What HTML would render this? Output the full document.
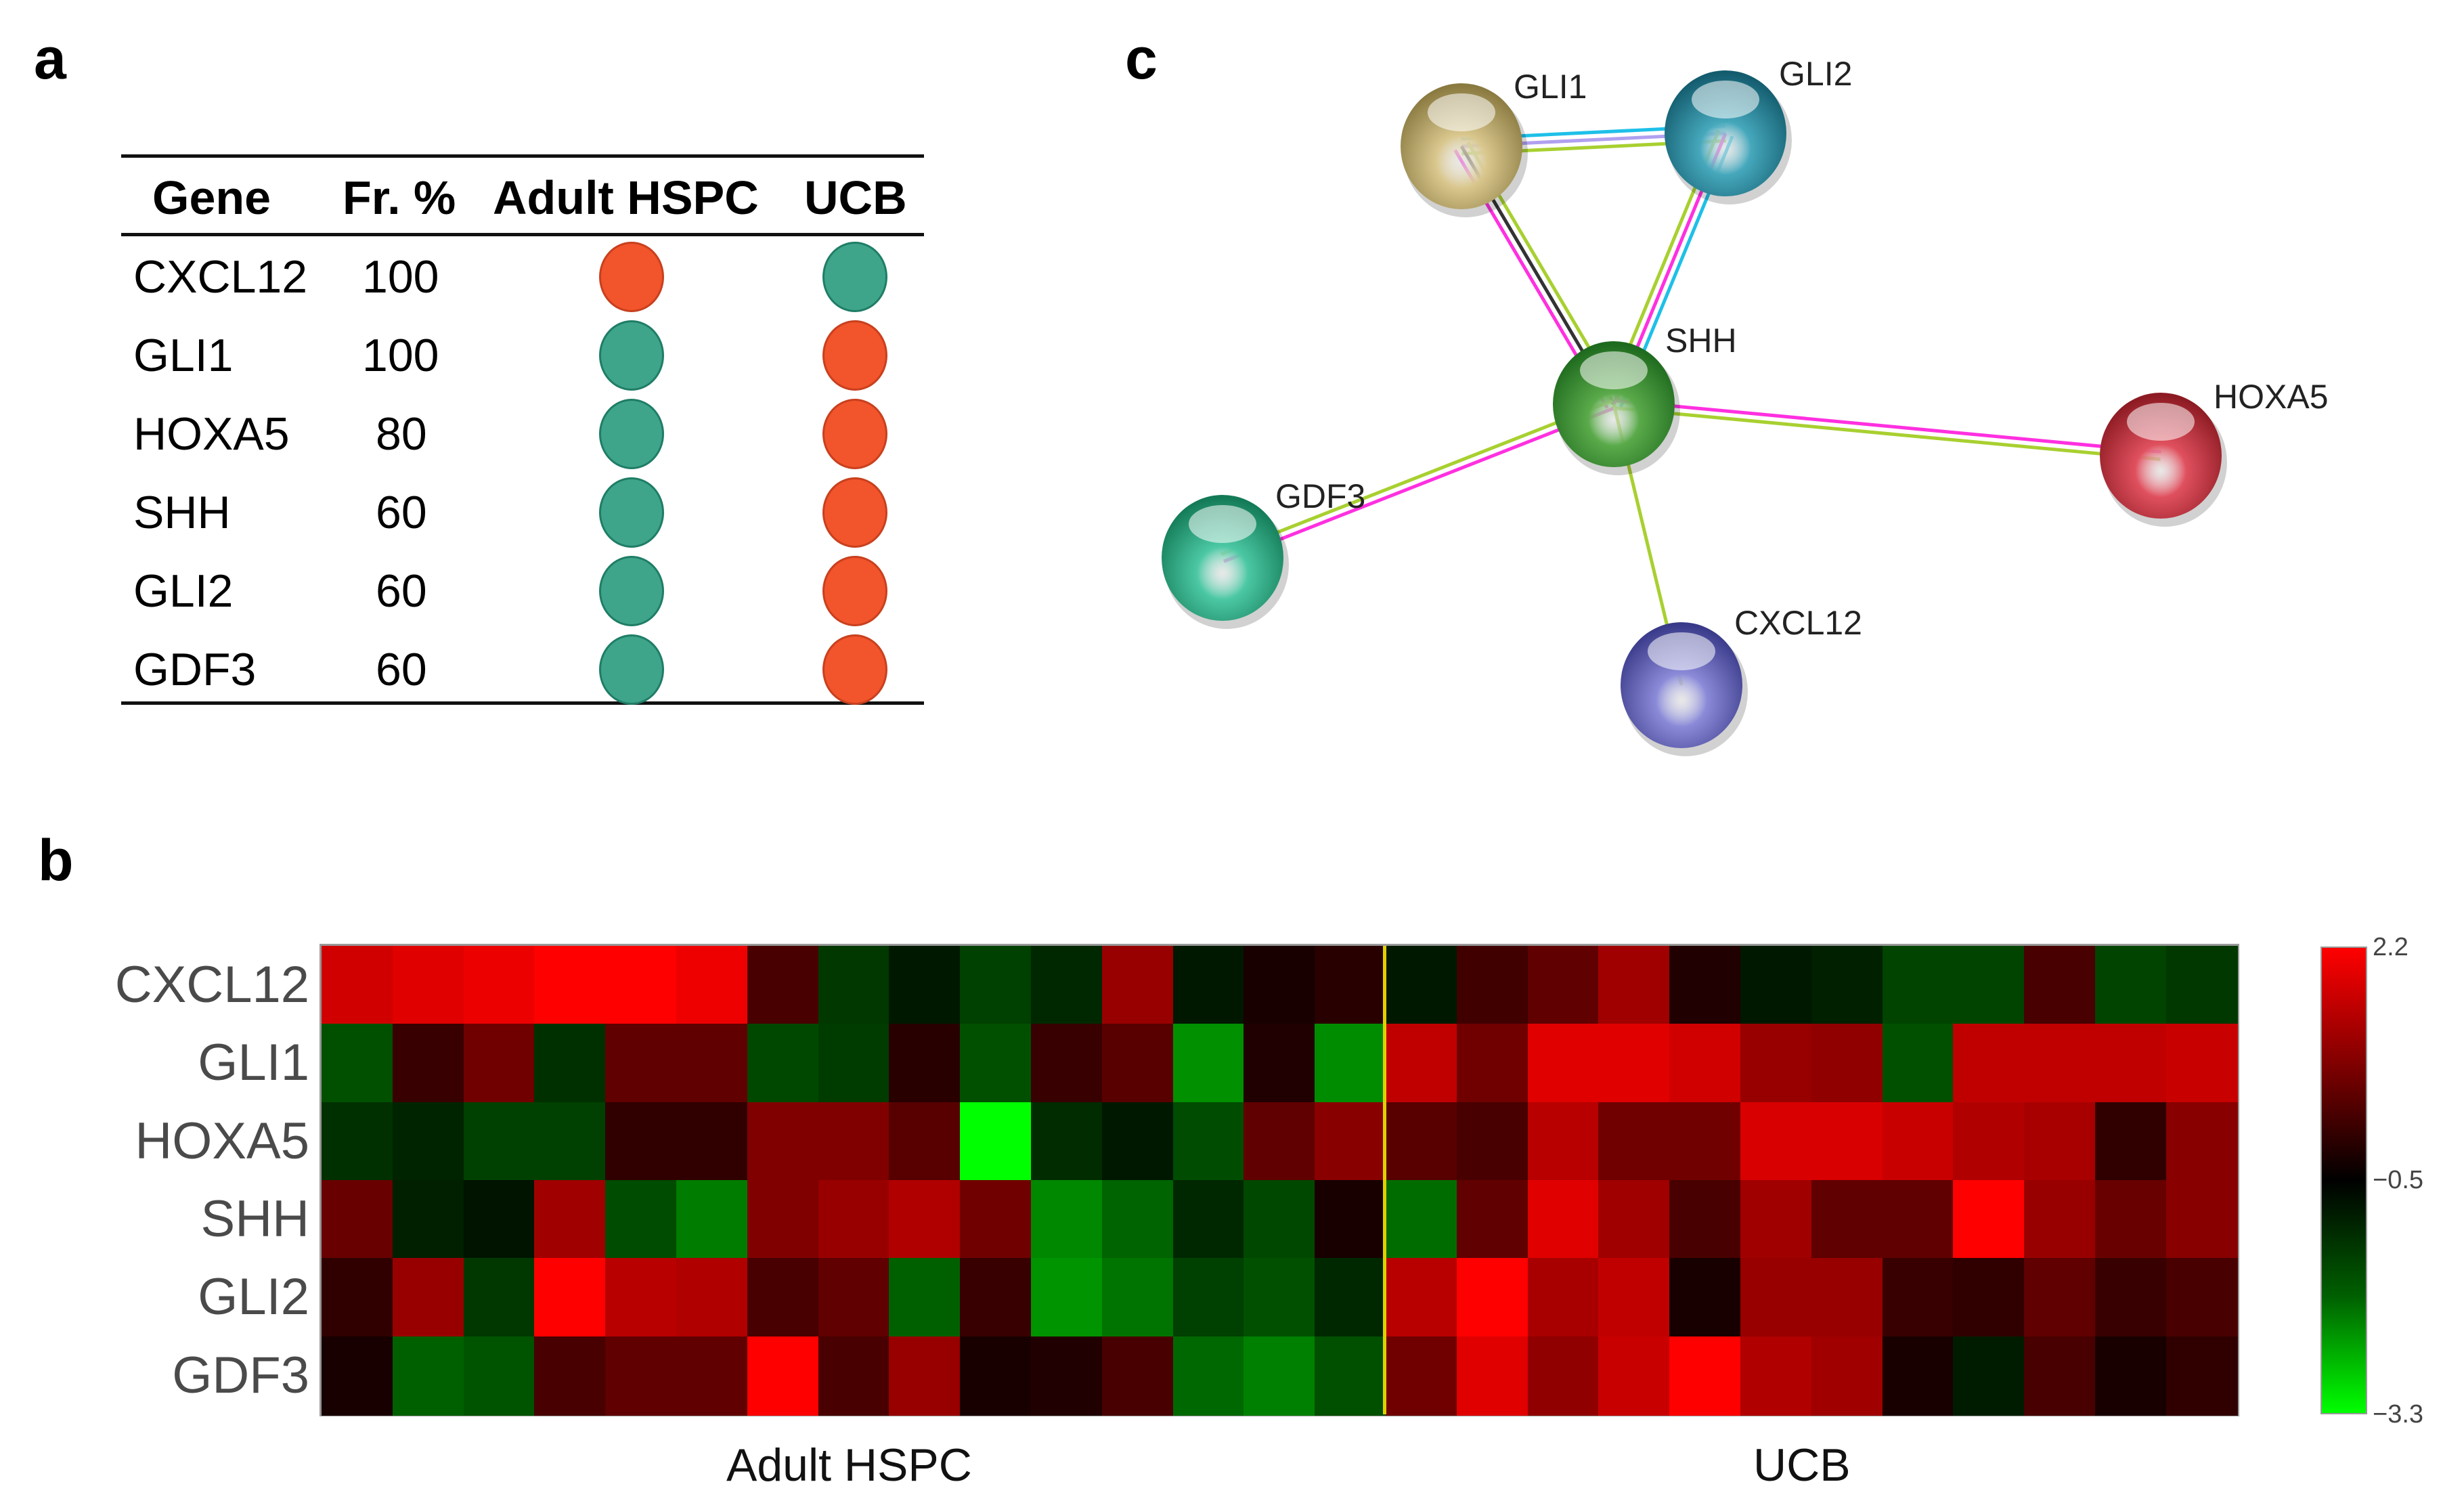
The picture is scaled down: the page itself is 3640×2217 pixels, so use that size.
<!DOCTYPE html>
<html><head><meta charset="utf-8">
<style>
html,body{margin:0;padding:0;background:#fff;}
body{width:3640px;height:2217px;position:relative;overflow:hidden;font-family:"Liberation Sans",sans-serif;}
.abs{position:absolute;}
.lbl{font-weight:bold;font-size:86px;color:#000;}
.rule{position:absolute;left:179px;width:1186px;height:5px;background:#111;}
.hd{position:absolute;top:252px;font-weight:bold;font-size:70px;line-height:80px;color:#000;white-space:nowrap;}
.cell{position:absolute;font-size:68px;line-height:80px;color:#000;white-space:nowrap;}
.dot{position:absolute;width:96px;height:104px;border-radius:50%;box-sizing:border-box;}
.o{background:#f2542b;border:3px solid #c8401e;}
.t{background:#3ea58b;border:3px solid #1f7d66;}
.rl{position:absolute;right:3183px;font-size:76px;line-height:115px;color:#4a4a4a;text-align:right;white-space:nowrap;}
</style></head><body>
<div class="abs lbl" style="left:50px;top:38px;">a</div>
<div class="abs lbl" style="left:56px;top:1222px;">b</div>
<div class="abs lbl" style="left:1662px;top:38px;">c</div>

<div class="rule" style="top:228px"></div>
<div class="rule" style="top:344px"></div>
<div class="rule" style="top:1036px"></div>
<div class="hd" style="left:225px">Gene</div>
<div class="hd" style="left:506px">Fr. %</div>
<div class="hd" style="left:728px">Adult HSPC</div>
<div class="hd" style="left:1188px">UCB</div>

<div id="tbl"></div>

<div id="hm" class="abs" style="left:475px;top:1397px;width:2830px;height:692px;outline:3px solid #999;"></div>
<div class="abs" style="left:2043px;top:1397px;width:5px;height:692px;background:#e0d000;"></div>
<div class="abs" style="left:3428px;top:1398px;width:69px;height:691px;border:2px solid #999;box-sizing:border-box;background:linear-gradient(to bottom,#ff0000 0%,#800000 25%,#000 50%,#006000 75%,#00ff00 100%);"></div>
<div class="abs" style="left:3505px;top:1378px;font-size:38px;color:#444;">2.2</div>
<div class="abs" style="left:3505px;top:1722px;font-size:38px;color:#444;">−0.5</div>
<div class="abs" style="left:3505px;top:2068px;font-size:38px;color:#444;">−3.3</div>
<div id="rls"></div>
<div class="abs" style="left:1073px;top:2125px;font-size:68px;color:#111;">Adult HSPC</div>
<div class="abs" style="left:2590px;top:2125px;font-size:68px;color:#111;">UCB</div>

<svg id="net" class="abs" style="left:0;top:0" width="3640" height="1200"></svg>

<script>
var genes=["CXCL12","GLI1","HOXA5","SHH","GLI2","GDF3"],fr=["100","100","80","60","60","60"];
var t="";
for(var i=0;i<6;i++){var cy=409+116*i;
t+='<div class="cell" style="left:197px;top:'+(cy-40)+'px">'+genes[i]+'</div>';
t+='<div class="cell" style="left:'+(fr[i].length==3?535:555)+'px;top:'+(cy-40)+'px">'+fr[i]+'</div>';
t+='<div class="dot '+(i==0?'o':'t')+'" style="left:885px;top:'+(cy-52)+'px"></div>';
t+='<div class="dot '+(i==0?'t':'o')+'" style="left:1215px;top:'+(cy-52)+'px"></div>';}
document.getElementById('tbl').innerHTML=t;
var C=[
"d00000 e00000 ec0000 ff0000 ff0000 ee0000 480000 003800 001800 004000 002800 980000 001800 180000 280000 001800 400000 600000 a00000 200000 001800 002000 004400 004400 480000 004400 003800",
"005000 380000 700000 003000 600000 600000 004800 003c00 280000 005000 380000 580000 009000 200000 008c00 c00000 700000 e00000 e00000 d00000 980000 900000 005000 c00000 c00000 c00000 c80000",
"003000 002400 004000 004000 300000 300000 800000 800000 580000 00ff00 002c00 001800 004c00 600000 880000 580000 480000 b80000 700000 700000 d80000 d80000 c80000 b00000 a80000 300000 880000",
"680000 002000 001400 a00000 004c00 007c00 800000 980000 b00000 700000 008800 006400 002800 004800 180000 006c00 600000 e00000 a00000 480000 a00000 600000 600000 ff0000 980000 680000 880000",
"300000 980000 003800 ff0000 b80000 b00000 480000 600000 006000 380000 009400 007400 004000 005000 002800 b80000 ff0000 a80000 c00000 180000 980000 980000 380000 300000 600000 380000 480000",
"180000 006000 005400 480000 600000 600000 ff0000 480000 980000 180000 200000 480000 006800 008000 005000 700000 e00000 900000 c80000 ff0000 b00000 a00000 180000 001c00 480000 180000 300000"];
var h="",r="";
for(var i=0;i<6;i++){var row=C[i].split(" ");
for(var j=0;j<27;j++){h+='<div style="position:absolute;left:'+(j*104.8).toFixed(1)+'px;top:'+(i*115.33).toFixed(1)+'px;width:106px;height:117px;background:#'+row[j]+'"></div>';}
r+='<div class="rl" style="top:'+(1397+i*115.33).toFixed(0)+'px">'+genes[i]+'</div>';}
document.getElementById('hm').innerHTML=h;document.getElementById('rls').innerHTML=r;
var N={GLI1:[2159,216,"#d9c78e","#8a7a40"],GLI2:[2549,197,"#46a8bc","#135c6e"],SHH:[2384,597,"#5aaa4a","#1e6a1e"],HOXA5:[3192,673,"#e0505e","#8c1a22"],GDF3:[1806,824,"#4cc8a4","#137a56"],CXCL12:[2484,1012,"#8a8ad8","#3a3a8a"]};
var E=[["GLI1","GLI2",["#1ec0e8","#b0a0f0","#a8d030"]],["GLI1","SHH",["#a8d030","#333333","#ff30e0"]],["GLI2","SHH",["#1ec0e8","#ff30e0","#a8d030"]],["SHH","HOXA5",["#ff30e0","#a8d030"]],["SHH","GDF3",["#ff30e0","#a8d030"]],["SHH","CXCL12",["#a8d030"]]];
var s='<defs>';
for(var k in N){s+='<radialGradient id="g'+k+'" cx="50%" cy="62%" r="60%"><stop offset="0" stop-color="#fff" stop-opacity="0.5"/><stop offset="0.35" stop-color="'+N[k][2]+'"/><stop offset="1" stop-color="'+N[k][3]+'"/></radialGradient>';}
s+='</defs>';
E.forEach(function(e){var a=N[e[0]],b=N[e[1]],dx=b[0]-a[0],dy=b[1]-a[1],L=Math.hypot(dx,dy),px=-dy/L,py=dx/L,n=e[2].length;
e[2].forEach(function(c,i){var o=(i-(n-1)/2)*11;s+='<line x1="'+(a[0]+px*o)+'" y1="'+(a[1]+py*o)+'" x2="'+(b[0]+px*o)+'" y2="'+(b[1]+py*o)+'" stroke="'+c+'" stroke-width="5"/>';});});
var lp={GLI1:[2236,145],GLI2:[2628,126],SHH:[2460,520],HOXA5:[3270,603],GDF3:[1884,750],CXCL12:[2562,937]};
for(var k in N){var x=N[k][0],y=N[k][1];
s+='<ellipse cx="'+(x+6)+'" cy="'+(y+10)+'" rx="92" ry="95" fill="#000" opacity="0.18"/>';
s+='<ellipse cx="'+x+'" cy="'+y+'" rx="90" ry="93" fill="url(#g'+k+')"/>';
s+='<ellipse cx="'+x+'" cy="'+(y-50)+'" rx="50" ry="28" fill="#fff" opacity="0.55"/>';
s+='<text x="'+lp[k][0]+'" y="'+lp[k][1]+'" font-family="Liberation Sans,sans-serif" font-size="50" fill="#222">'+k+'</text>';}
document.getElementById('net').innerHTML=s;
</script>
</body></html>
